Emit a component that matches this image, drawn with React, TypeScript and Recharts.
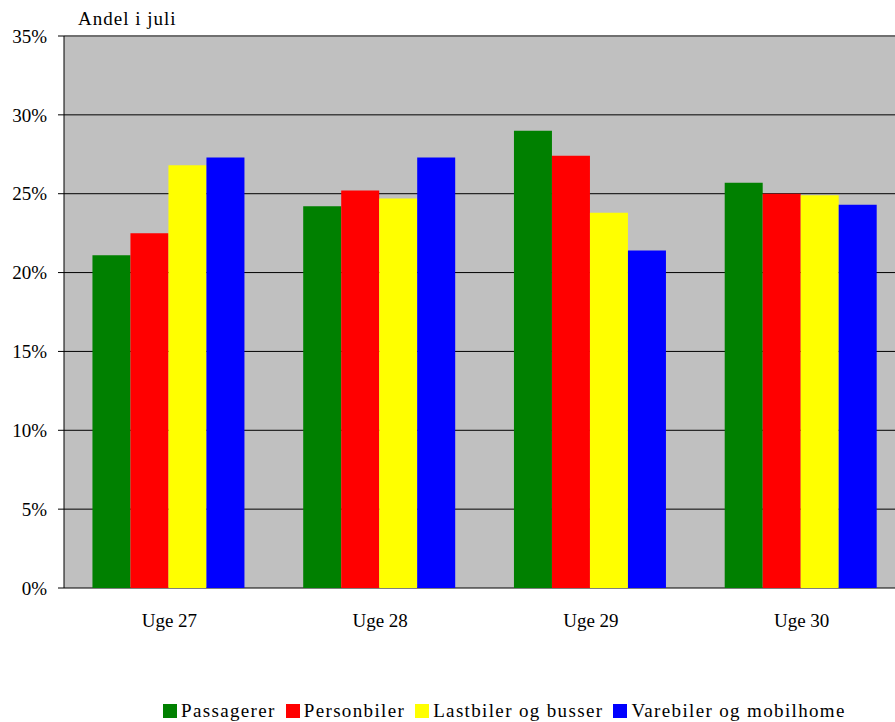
import React from "react";
import { BarChart, Bar, XAxis, YAxis, CartesianGrid, Legend, ReferenceLine } from "recharts";

const categories = ["Uge 27", "Uge 28", "Uge 29", "Uge 30"];
const passagerer = [21.1, 24.2, 29.0, 25.7];
const personbiler = [22.5, 25.2, 27.4, 25.0];
const lastbiler = [26.8, 24.7, 23.8, 24.9];
const varebiler = [27.3, 27.3, 21.4, 24.3];
const yTicks = [0, 5, 10, 15, 20, 25, 30, 35];
const boundaryTicks = [0, 1, 2, 3, 4];

const seriesList = [
  { key: "passagerer", name: "Passagerer", color: "#008000" },
  { key: "personbiler", name: "Personbiler", color: "#FF0000" },
  { key: "lastbiler", name: "Lastbiler og busser", color: "#FFFF00" },
  { key: "varebiler", name: "Varebiler og mobilhome", color: "#0000FF" },
];

const data = categories.map((c, i) => ({
  name: c,
  idx: i,
  passagerer: passagerer[i],
  personbiler: personbiler[i],
  lastbiler: lastbiler[i],
  varebiler: varebiler[i],
}));

const font = "Liberation Serif, Times New Roman, DejaVu Serif, serif";

const LegendContent = () => (
  <div style={{ display: "flex", alignItems: "center", fontFamily: font, fontSize: 19, letterSpacing: 1.35, color: "#000", whiteSpace: "nowrap", lineHeight: "20px" }}>
    {seriesList.map((s) => (
      <div key={s.key} style={{ display: "flex", alignItems: "center", marginRight: 10 }}>
        <div style={{ width: 14, height: 14, background: s.color, marginRight: 4 }} />
        <span>{s.name}</span>
      </div>
    ))}
  </div>
);

export default function App() {
  return (
    <div style={{ position: "fixed", left: 0, top: 0, width: 895, height: 722, overflow: "hidden", fontFamily: font, background: "#fff" }}>
      <div style={{ position: "absolute", left: 78, top: 8, fontSize: 19, letterSpacing: 1, color: "#000", zIndex: 2, fontFamily: font }}>
        Andel i juli
      </div>
      <BarChart
        width={907}
        height={722}
        data={data}
        margin={{ top: 36, right: 0, bottom: 74, left: 8 }}
        barGap={0}
        barCategoryGap="13.5%"
      >
        <CartesianGrid vertical={false} stroke="#000" fill="#C0C0C0" />
        <XAxis
          xAxisId="b"
          type="number"
          dataKey="idx"
          domain={[0, 4]}
          ticks={boundaryTicks}
          tick={false}
          tickSize={7}
          tickLine={{ stroke: "#000" }}
          axisLine={{ stroke: "#000" }}
          height={0}
          allowDataOverflow
        />
        <XAxis
          dataKey="name"
          tickLine={false}
          tickSize={0}
          tickMargin={26}
          axisLine={false}
          height={60}
          tick={{ fill: "#000", fontSize: 19, fontFamily: font }}
        />
        <YAxis
          width={56}
          domain={[0, 35]}
          ticks={yTicks}
          tickFormatter={(v) => `${v}%`}
          tickSize={6}
          tickMargin={11}
          tickLine={{ stroke: "#000" }}
          axisLine={{ stroke: "#000" }}
          tick={{ fill: "#000", fontSize: 19, fontFamily: font }}
          interval={0}
        />
        <ReferenceLine y={35} stroke="#707070" strokeWidth={2} />
        {seriesList.map((s) => (
          <Bar key={s.key} dataKey={s.key} name={s.name} fill={s.color} isAnimationActive={false} />
        ))}
        <Legend
          layout="horizontal"
          verticalAlign="middle"
          align="center"
          content={<LegendContent />}
          wrapperStyle={{ top: 701, left: 163, width: "auto" }}
        />
      </BarChart>
    </div>
  );
}
